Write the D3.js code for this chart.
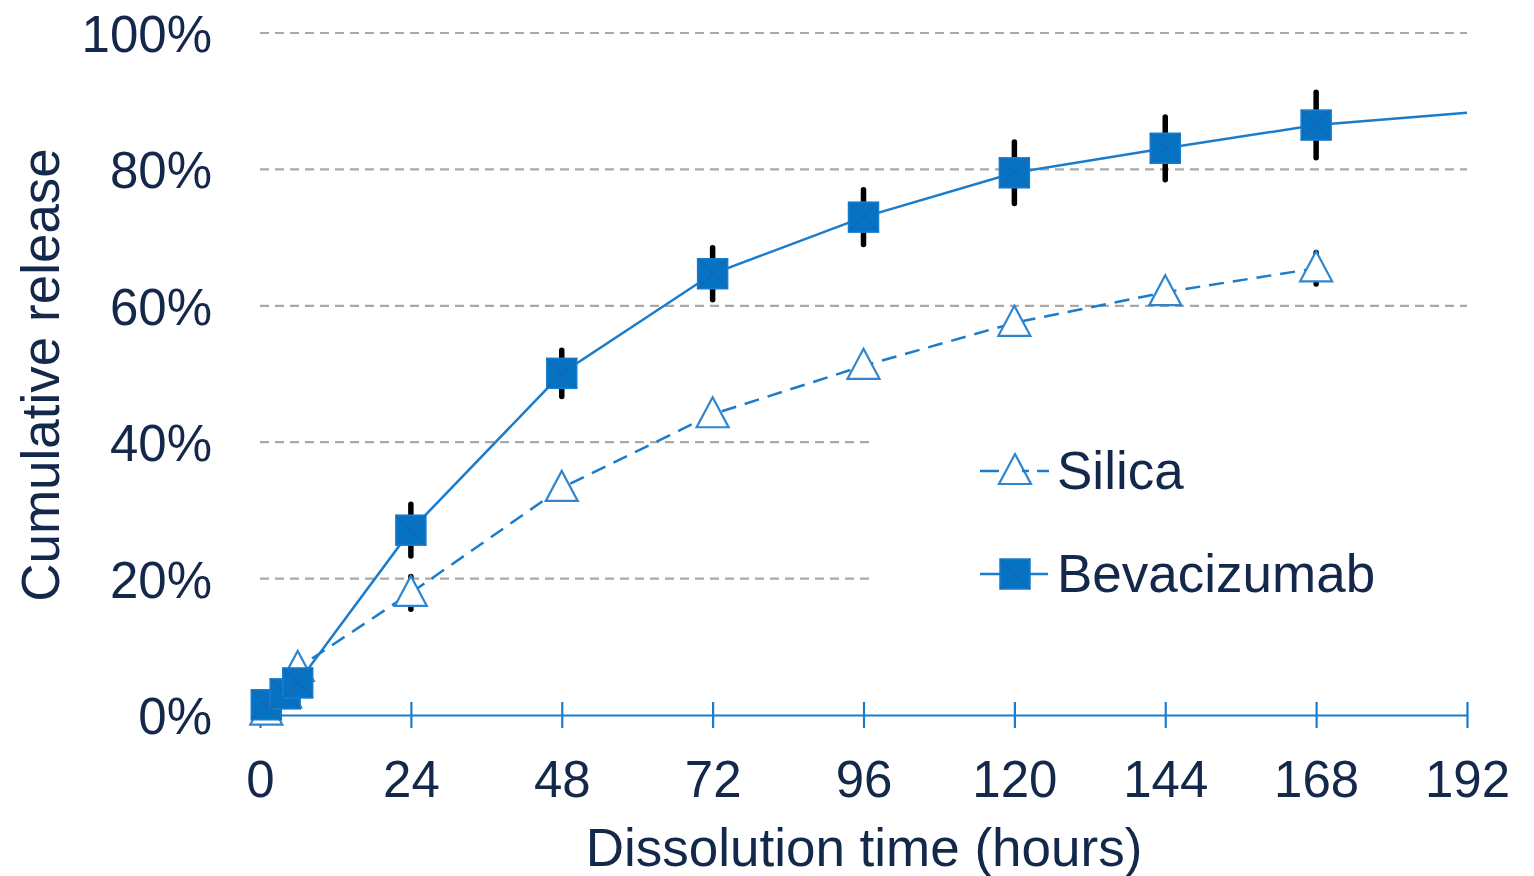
<!DOCTYPE html>
<html><head><meta charset="utf-8">
<script src="https://cdn.jsdelivr.net/npm/d3@7"></script>
<style>body{margin:0;background:#fff}svg{display:block}text{font-family:"Liberation Sans",Arial,sans-serif;fill:#14284b}</style>
</head><body><svg id="c" width="1534" height="876"></svg>
<script>
const times = [1, 4, 6, 24, 48, 72, 96, 120, 144, 168];
const bevacizumab = [1.5, 3.1, 4.7, 27.1, 50.1, 64.7, 73.0, 79.5, 83.1, 86.5];
const bevacizumabErr = [0, 0, 0, 3.8, 3.4, 3.8, 4.0, 4.5, 4.6, 4.8];
const bevacizumabTail = [[168, 86.5], [192, 88.3]];
const silica = [0.5, 3.0, 6.9, 17.9, 33.3, 44.1, 51.2, 57.5, 62.0, 65.5];
const silicaErr = [0, 0, 0, 2.4, 1.2, 1.2, 1.2, 1.2, 1.2, 2.3];
const xTicks = [0, 24, 48, 72, 96, 120, 144, 168, 192];
const yTicks = [0, 20, 40, 60, 80, 100];
const legendNames = ["Silica", "Bevacizumab"];

const svg = d3.select("#c");
const x = d3.scaleLinear().domain([0, 192]).range([260, 1467]);
const y = d3.scaleLinear().domain([0, 100]).range([715, 33]);
const blue = "#1a7ccc", fill = "#0672c4";

// gridlines
svg.append("g").selectAll("line").data(yTicks.filter(d => d > 0)).join("line")
  .attr("x1", x(0)).attr("x2", d => d >= 60 ? x(192) : 875)
  .attr("y1", d => y(d)).attr("y2", d => y(d))
  .attr("stroke", "#a9a9a9").attr("stroke-width", 2.2).attr("stroke-dasharray", "9,6");

// y labels
svg.append("g").selectAll("text").data(yTicks).join("text")
  .attr("x", 212).attr("y", d => y(d) + 19).attr("text-anchor", "end")
  .attr("font-size", 51).text(d => d + "%");

// x axis
const xAxis = d3.axisBottom(x).tickValues(xTicks).tickSize(0).tickFormat(d => d);
const gx = svg.append("g").attr("transform", `translate(0,${y(0)})`).call(xAxis);
gx.select(".domain").attr("stroke", blue).attr("stroke-width", 2.2);
gx.selectAll(".tick text").attr("font-size", 51).attr("y", 0).attr("dy", 82)
  .attr("fill", "#14284b").attr("font-family", '"Liberation Sans",Arial,sans-serif');
gx.selectAll(".tick").append("line").attr("y1", -13).attr("y2", 13)
  .attr("stroke", blue).attr("stroke-width", 2.2);

// titles
svg.append("text").attr("x", 864).attr("y", 866).attr("text-anchor", "middle")
  .attr("font-size", 53).text("Dissolution time (hours)");
svg.append("text").attr("transform", "translate(59,375) rotate(-90)").attr("text-anchor", "middle")
  .attr("font-size", 53).text("Cumulative release");

// lines
const line = d3.line().x(d => x(d[0])).y(d => y(d[1]));
const silPts = times.map((t, i) => [t, silica[i]]);
const bevPts = times.map((t, i) => [t, bevacizumab[i]]);
svg.append("path").attr("d", line(silPts)).attr("fill", "none").attr("stroke", blue)
  .attr("stroke-width", 2.5).attr("stroke-dasharray", "15,9");
svg.append("path").attr("d", line(bevPts.concat(bevacizumabTail.slice(1)))).attr("fill", "none")
  .attr("stroke", blue).attr("stroke-width", 2.5);

// error bars
function errBars(vals, errs) {
  svg.append("g").selectAll("line").data(times.map((t, i) => [t, vals[i], errs[i]]).filter(d => d[2] > 0)).join("line")
    .attr("x1", d => x(d[0])).attr("x2", d => x(d[0]))
    .attr("y1", d => y(d[1] - d[2])).attr("y2", d => y(d[1] + d[2]))
    .attr("stroke", "#000").attr("stroke-width", 5.5).attr("stroke-linecap", "round");
}
errBars(silica, silicaErr);
errBars(bevacizumab, bevacizumabErr);

function triangle(g, cx, cy) {
  g.append("path").attr("d", `M${cx},${cy - 17}L${cx + 16},${cy + 13}L${cx - 16},${cy + 13}Z`)
    .attr("fill", "#fff").attr("stroke", "#2f86cf").attr("stroke-width", 2.2);
}
function square(g, cx, cy) {
  const s = 15;
  g.append("rect").attr("x", cx - s).attr("y", cy - s).attr("width", 2 * s).attr("height", 2 * s)
    .attr("fill", fill).attr("stroke", "#1a7ccc").attr("stroke-width", 1.5);
  g.append("path").attr("d", `M${cx - s},${cy - s}L${cx + s},${cy + s}M${cx + s},${cy - s}L${cx - s},${cy + s}`)
    .attr("stroke", "#1a64a8").attr("stroke-width", 1.3).attr("opacity", 0.7);
}
const gm = svg.append("g");
silPts.forEach(d => triangle(gm, x(d[0]), y(d[1])));
bevPts.forEach(d => square(gm, x(d[0]), y(d[1])));

// legend
const lg = svg.append("g");
[[980, 999], [1037, 1049]].forEach(s => lg.append("line").attr("x1", s[0]).attr("x2", s[1])
  .attr("y1", 471).attr("y2", 471).attr("stroke", blue).attr("stroke-width", 2.5));
triangle(lg, 1015, 471);
lg.append("line").attr("x1", 1022).attr("x2", 1029).attr("y1", 471).attr("y2", 471)
  .attr("stroke", blue).attr("stroke-width", 2.5);
lg.append("text").attr("x", 1057).attr("y", 489).attr("font-size", 53).text(legendNames[0]);
lg.append("line").attr("x1", 980).attr("x2", 1048).attr("y1", 574).attr("y2", 574)
  .attr("stroke", blue).attr("stroke-width", 2.5);
square(lg, 1015, 574);
lg.append("text").attr("x", 1057).attr("y", 592).attr("font-size", 53).text(legendNames[1]);
</script></body></html>
